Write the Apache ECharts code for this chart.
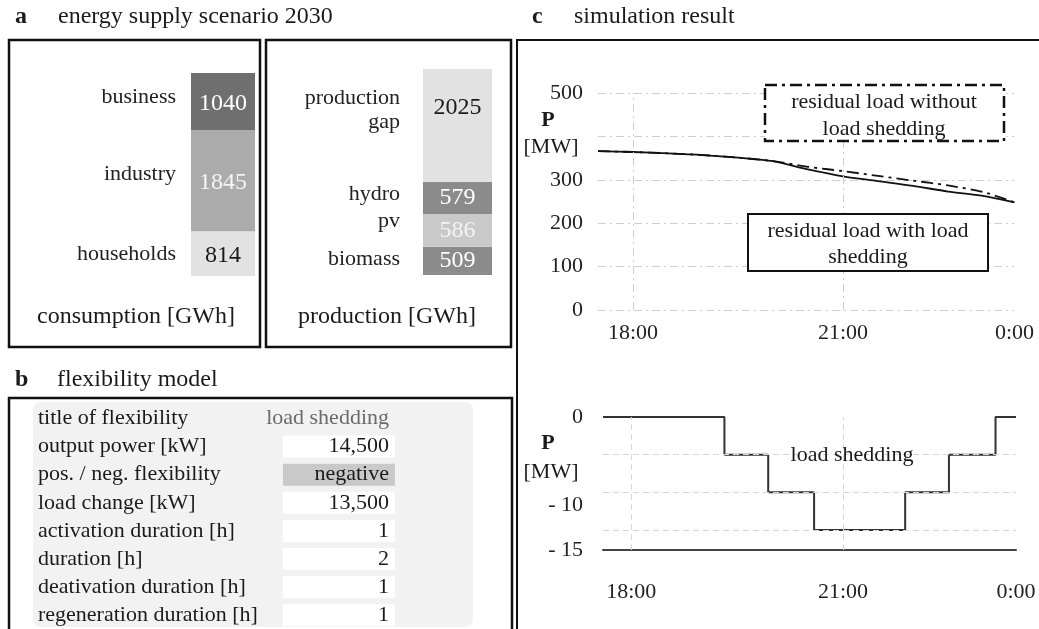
<!DOCTYPE html>
<html>
<head>
<meta charset="utf-8">
<script src="https://cdn.jsdelivr.net/npm/echarts@6/dist/echarts.min.js"></script>
<style>
  html, body { margin: 0; padding: 0; background: #fff; }
  #chart { width: 1039px; height: 629px; }
</style>
</head>
<body>
<div id="chart"></div>
<script>
// panel a: energy supply scenario 2030 (bottom -> top of each stack)
const consumptionNames = ["households", "industry", "business"];
const consumptionValues = [814, 1845, 1040];
const productionNames = ["biomass", "pv", "hydro", "production\ngap"];
const productionValues = [509, 586, 579, 2025];

// panel b: flexibility model
const flexLabels = [
  "title of flexibility",
  "output power [kW]",
  "pos. / neg. flexibility",
  "load change [kW]",
  "activation duration [h]",
  "duration [h]",
  "deativation duration [h]",
  "regeneration duration [h]"
];
const flexValues = ["load shedding", "14,500", "negative", "13,500", "1", "2", "1", "1"];

// panel c: simulation result (time in hours)
const timeHours = [17.5, 18, 18.5, 19, 19.5, 20, 20.5, 21, 21.5, 22, 22.5, 23, 23.45];
const loadWithShedding = [366, 364, 361, 357, 351, 343, 324, 308, 297, 286, 273, 263, 248];
const loadWithoutShedding = [366, 364, 361, 357, 351, 343, 330, 320, 309, 298, 287, 272, 248];
const sheddingHours = [17.6, 19.32, 19.94, 20.59, 21.88, 22.5, 23.16, 23.45];
const sheddingValues = [0, -4.25, -8.5, -12.75, -8.5, -4.25, 0, 0];
const sheddingGridLevels = [-4.25, -8.5, -12.75];
const timeTickValues = [18, 21, 23.45];
const timeTickLabels = ["18:00", "21:00", "0:00"];

const FONT = '"Liberation Serif", "DejaVu Serif", serif';
const chart = echarts.init(document.getElementById("chart"));

const consColors = ["#e2e2e2", "#ababab", "#6f6f6f"];
const consLabelColors = ["#1a1a1a", "#f4f4f4", "#ffffff"];
const prodColors = ["#8b8b8b", "#c9c9c9", "#8b8b8b", "#e2e2e2"];
const prodLabelColors = ["#ffffff", "#f4f4f4", "#ffffff", "#1a1a1a"];

function stackSeries(names, values, colors, labelColors, idx, nameOffsets, valueOffsets, distance) {
  const bars = names.map((n, i) => ({
    type: "bar",
    name: n,
    stack: "s" + idx,
    xAxisIndex: idx,
    yAxisIndex: idx,
    barWidth: "100%",
    barGap: "-100%",
    data: [values[i]],
    itemStyle: { color: colors[i] },
    label: {
      show: true,
      position: "inside",
      formatter: "{c}",
      fontFamily: FONT,
      fontSize: 24,
      color: labelColors[i],
      offset: valueOffsets[i],
    },
  }));
  const tags = names.map((n, i) => ({
    type: "bar",
    stack: "t" + idx,
    xAxisIndex: idx,
    yAxisIndex: idx,
    barWidth: "100%",
    barGap: "-100%",
    data: [values[i]],
    itemStyle: { color: "rgba(0,0,0,0)" },
    label: {
      show: true,
      position: "left",
      distance: distance,
      formatter: n,
      fontFamily: FONT,
      fontSize: 22,
      lineHeight: 24,
      color: "#222",
      offset: nameOffsets[i],
    },
  }));
  return bars.concat(tags);
}

const sum = (a) => a.reduce((s, v) => s + v, 0);

const gridLine = { color: "#cfcfcf", width: 1, type: [8, 4, 2, 4] };

function timeAxis(idx, min, max, margin, showLine) {
  return {
    type: "value",
    gridIndex: idx,
    min: min,
    max: max,
    axisLine: { show: showLine, onZero: false, lineStyle: { color: "#444", width: 2 } },
    axisTick: { show: false },
    splitLine: { show: false },
    axisLabel: {
      customValues: timeTickValues,
      formatter: (v) => timeTickLabels[timeTickValues.indexOf(v)] || "",
      fontFamily: FONT,
      fontSize: 22,
      color: "#222",
      margin: margin,
    },
  };
}

const vGrid = {
  silent: true,
  symbol: ["none", "none"],
  label: { show: false },
  lineStyle: gridLine,
  data: [{ xAxis: 18 }, { xAxis: 21 }],
};

// graphic: frames, titles, table
const text = (t, x, y, size, opt) =>
  Object.assign(
    {
      type: "text",
      style: Object.assign(
        {
          text: t,
          x: x,
          y: y,
          font: (opt && opt.bold ? "bold " : "") + size + "px " + FONT,
          fill: "#1a1a1a",
          textAlign: "left",
          textVerticalAlign: "middle",
        },
        opt && opt.style
      ),
    },
    { z: 10 }
  );
const frame = (x, y, w, h) => ({
  type: "rect",
  shape: { x: x, y: y, width: w, height: h },
  style: { fill: "none", stroke: "#111", lineWidth: 2.5 },
  z: 5,
});

const graphics = [
  text("a", 15, 17, 24, { bold: true }),
  text("energy supply scenario 2030", 58, 17, 24),
  text("b", 15, 380, 24, { bold: true }),
  text("flexibility model", 57, 380, 24),
  text("c", 532, 17, 24, { bold: true }),
  text("simulation result", 574, 17, 24),
  frame(9, 40, 251, 307),
  frame(266, 40, 245, 307),
  frame(9, 398, 503, 260),
  {
    type: "polyline",
    shape: { points: [[517, 640], [517, 40], [1045, 40]] },
    style: { fill: "none", stroke: "#111", lineWidth: 2 },
    z: 5,
  },
  text("consumption [GWh]", 136, 317, 24, { style: { textAlign: "center" } }),
  text("production [GWh]", 387, 317, 24, { style: { textAlign: "center" } }),
  {
    type: "rect",
    shape: { x: 33, y: 402, width: 440, height: 225, r: 8 },
    style: { fill: "#f2f2f2" },
    z: 1,
  },
  // chart annotations
  text("P", 548, 120, 22, { bold: true, style: { textAlign: "center" } }),
  text("[MW]", 551, 147, 22, { style: { textAlign: "center" } }),
  text("P", 548, 443, 22, { bold: true, style: { textAlign: "center" } }),
  text("[MW]", 551, 472, 22, { style: { textAlign: "center" } }),
  {
    type: "rect",
    shape: { x: 765, y: 85, width: 239, height: 56 },
    style: { fill: "#fff", stroke: "#111", lineWidth: 2.5, lineDash: [12, 5, 3, 5] },
    z: 6,
  },
  text("residual load without", 884, 102, 22, { style: { textAlign: "center" } }),
  text("load shedding", 884, 129, 22, { style: { textAlign: "center" } }),
  {
    type: "rect",
    shape: { x: 748, y: 214, width: 240, height: 57 },
    style: { fill: "#fff", stroke: "#111", lineWidth: 2 },
    z: 6,
  },
  text("residual load with load", 868, 231, 22, { style: { textAlign: "center" } }),
  text("shedding", 868, 257, 22, { style: { textAlign: "center" } }),
  text("load shedding", 852, 455, 22, { style: { textAlign: "center" } }),
];

flexLabels.forEach((lab, i) => {
  const y = 418.5 + 28.1 * i;
  graphics.push(text(lab, 38, y, 22));
  if (i > 0) {
    graphics.push({
      type: "rect",
      shape: { x: 283, y: y - 11, width: 112, height: 22 },
      style: { fill: i === 2 ? "#c9c9c9" : "#ffffff" },
      z: 2,
    });
  }
  graphics.push(
    text(flexValues[i], 389, y, 22, {
      style: { textAlign: "right", fill: i === 0 ? "#6a6a6a" : "#1a1a1a" },
    })
  );
});

const option = {
  animation: false,
  backgroundColor: "#fff",
  textStyle: { fontFamily: FONT },
  grid: [
    { left: 191, top: 73, width: 64, height: 203 },
    { left: 423, top: 69, width: 69, height: 206 },
    { left: 598, top: 93, width: 416.5, height: 217 },
    { left: 603, top: 417, width: 413, height: 133 },
  ],
  xAxis: [
    { type: "category", gridIndex: 0, data: ["c"], show: false },
    { type: "category", gridIndex: 1, data: ["p"], show: false },
    timeAxis(2, 17.5, 23.45, 12, false),
    timeAxis(3, 17.6, 23.45, 31, true),
  ],
  yAxis: [
    { type: "value", gridIndex: 0, min: 0, max: sum(consumptionValues), show: false },
    { type: "value", gridIndex: 1, min: 0, max: sum(productionValues), show: false },
    {
      type: "value",
      gridIndex: 2,
      min: 0,
      max: 500,
      interval: 100,
      axisLine: { show: false },
      axisTick: { show: false },
      splitLine: { show: true, lineStyle: gridLine },
      axisLabel: {
        formatter: (v) => (v === 400 ? "" : v),
        fontFamily: FONT,
        fontSize: 22,
        color: "#222",
        margin: 15,
      },
    },
    {
      type: "value",
      gridIndex: 3,
      min: -15,
      max: 0,
      axisLine: { show: false },
      axisTick: { show: false },
      splitLine: { show: false },
      axisLabel: {
        customValues: [0, -10, -15],
        formatter: (v) => (v < 0 ? "- " + Math.abs(v) : String(v)),
        fontFamily: FONT,
        fontSize: 22,
        color: "#222",
        margin: 20,
      },
    },
  ],
  graphic: graphics,
  series: [
    ...stackSeries(
      consumptionNames, consumptionValues, consColors, consLabelColors, 0,
      [[0, 1], [0, -6], [0, -4]], [[0, 2], [0, 2], [0, 2]], 15
    ),
    ...stackSeries(
      productionNames, productionValues, prodColors, prodLabelColors, 1,
      [[0, -2], [0, -9], [0, -4], [0, -15]], [[0, 0], [0, 0], [0, 0], [0, -18]], 23
    ),
    {
      type: "line",
      xAxisIndex: 2,
      yAxisIndex: 2,
      data: timeHours.map((t, i) => [t, loadWithoutShedding[i]]),
      smooth: 0.3,
      showSymbol: false,
      lineStyle: { color: "#111", width: 1.8, type: [12, 5, 3, 5] },
      markLine: vGrid,
    },
    {
      type: "line",
      xAxisIndex: 2,
      yAxisIndex: 2,
      data: timeHours.map((t, i) => [t, loadWithShedding[i]]),
      smooth: 0.3,
      showSymbol: false,
      lineStyle: { color: "#111", width: 1.8 },
    },
    {
      type: "line",
      xAxisIndex: 3,
      yAxisIndex: 3,
      step: "end",
      data: sheddingHours.map((t, i) => [t, sheddingValues[i]]),
      showSymbol: false,
      lineStyle: { color: "#333", width: 2 },
      z: 3,
      markLine: {
        silent: true,
        symbol: ["none", "none"],
        label: { show: false },
        lineStyle: { color: "#d6d6d6", width: 1, type: [6, 4] },
        data: [{ xAxis: 18 }, { xAxis: 21 }].concat(sheddingGridLevels.map((v) => ({ yAxis: v }))),
      },
    },
  ],
};

chart.setOption(option);
</script>
</body>
</html>
